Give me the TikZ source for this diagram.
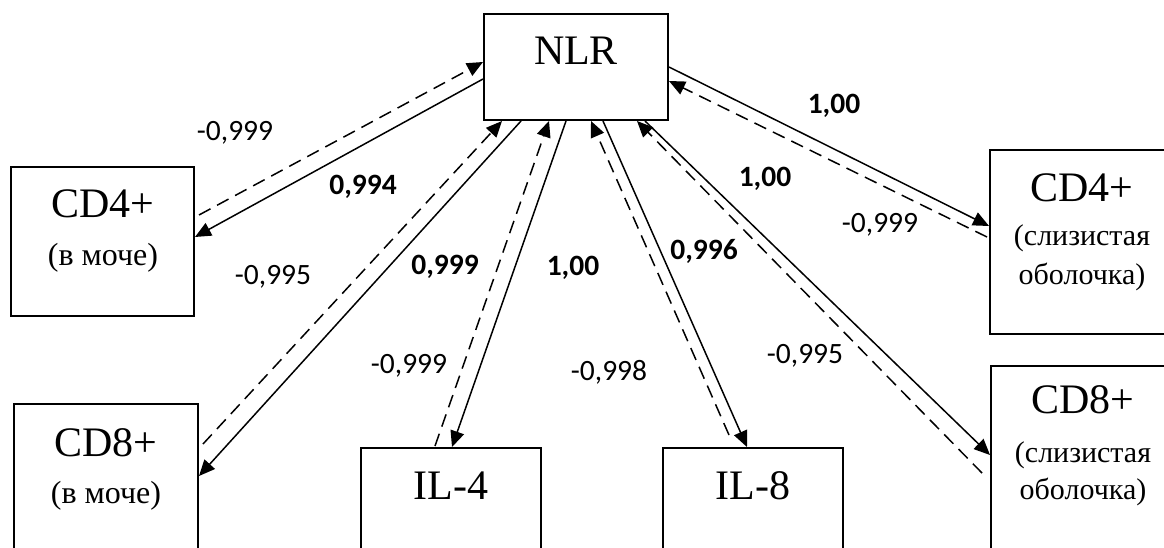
\documentclass[tikz,border=0pt]{standalone}
\usepackage{fontspec}
\setmainfont{Liberation Serif}
\newfontfamily\numfont{Carlito}
\usetikzlibrary{arrows.meta,calc}
\begin{document}
\begin{tikzpicture}[x=1pt,y=-1pt,
  box/.style={draw, line width=2pt, inner sep=0pt},
  conn/.style={line width=1.5pt, -{Triangle[length=16pt,width=14pt]}},
  dsh/.style={conn, dash pattern=on 13pt off 7.5pt},
  ttl/.style={font=\fontsize{42}{50}\selectfont, anchor=base, inner sep=0pt},
  sub/.style={font=\fontsize{32}{38}\selectfont, anchor=base, inner sep=0pt},
  subr/.style={font=\fontsize{30}{38}\selectfont, anchor=base, inner sep=0pt},
  num/.style={font=\numfont\fontsize{29.5}{31}\selectfont, inner sep=0pt},
  bnum/.style={font=\numfont\bfseries\fontsize{29.5}{31}\selectfont, inner sep=0pt}]
\useasboundingbox (0,0) rectangle (1164,548);
\clip (0,0) rectangle (1164,548);
\fill[white] (0,0) rectangle (1164,548);

% boxes
\node[box, minimum width=184pt, minimum height=106pt] (nlr) at (576,67) {};
\node[box, minimum width=183pt, minimum height=149pt] (c4l) at (102.5,241.5) {};
\node[box, minimum width=184pt, minimum height=149pt] (c8l) at (106,478.5) {};
\node[box, minimum width=180pt, minimum height=149pt] (il4) at (451,522.5) {};
\node[box, minimum width=180pt, minimum height=149pt] (il8) at (753,522.5) {};
\node[box, minimum width=184pt, minimum height=184pt] (c4r) at (1082,242) {};
\node[box, minimum width=184pt, minimum height=184pt] (c8r) at (1083,458) {};

% box texts
\node[ttl] (tnlr) at (576,65) {NLR};
\node[ttl] (tc4l) at (103,218) {CD4+};
\node[sub] (sc4l) at (103,265) {(в моче)};
\node[ttl] (tc8l) at (106,456) {CD8+};
\node[sub] (sc8l) at (106,503) {(в моче)};
\node[ttl] (til4) at (451,499) {IL-4};
\node[ttl] (til8) at (753,499) {IL-8};
\node[ttl] (tc4r) at (1082,201) {CD4+};
\node[subr] (sc4ra) at (1082,245) {(слизистая};
\node[subr] (sc4rb) at (1082,284) {оболочка)};
\node[ttl] (tc8r) at (1083,413) {CD8+};
\node[subr] (sc8ra) at (1083,462) {(слизистая};
\node[subr] (sc8rb) at (1083,499) {оболочка)};

% connectors
\draw[dsh]  ($(c4l.north east)+(4,49)$) -- ($(nlr.north west)+(0,49)$);
\draw[conn] ($(nlr.north west)+(0,66)$) -- ($(c4l.north east)+(0,71)$);

\draw[dsh]  ($(c8l.north east)+(4,41)$) -- ($(nlr.south west)+(19,0)$);
\draw[conn] ($(nlr.south west)+(38,0)$) -- ($(c8l.north east)+(0,73)$);

\draw[dsh]  ($(il4.north west)+(75,-1)$) -- ($(nlr.south west)+(66,0)$);
\draw[conn] ($(nlr.south west)+(83,0)$) -- ($(il4.north west)+(92,0)$);

\draw[dsh]  ($(il8.north west)+(67,-12)$) -- ($(nlr.south west)+(108,0)$);
\draw[conn] ($(nlr.south west)+(120,0)$) -- ($(il8.north west)+(85,0)$);

\draw[dsh]  ($(c8r.north west)+(-8,108)$) -- ($(nlr.south west)+(154,0)$);
\draw[conn] ($(nlr.south west)+(162,0)$) -- ($(c8r.north west)+(0,90)$);

\draw[dsh]  ($(c4r.north west)+(-2,88)$) -- ($(nlr.north east)+(0,68)$);
\draw[conn] ($(nlr.north east)+(0,54)$) -- ($(c4r.north west)+(0,77)$);

% coefficients
\node[num]  (n1)  at (235,133) {-0,999};
\node[bnum] (n2)  at (363,187) {0,994};
\node[num]  (n3)  at (273,277) {-0,995};
\node[bnum] (n4)  at (445,267) {0,999};
\node[bnum] (n5)  at (573,268) {1,00};
\node[num]  (n6)  at (409,366) {-0,999};
\node[num]  (n7)  at (609,372) {-0,998};
\node[bnum] (n8)  at (704,251) {0,996};
\node[num]  (n9)  at (805,356) {-0,995};
\node[bnum] (n10) at (834,106) {1,00};
\node[bnum] (n11) at (765,179) {1,00};
\node[num]  (n12) at (880,225) {-0,999};
\end{tikzpicture}
\end{document}
